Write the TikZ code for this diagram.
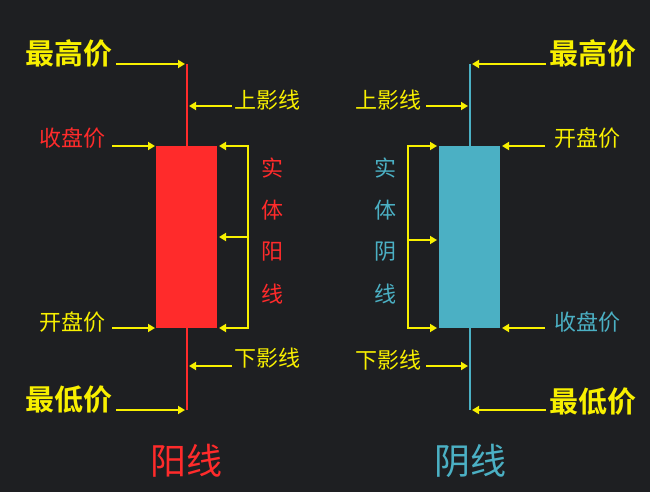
\documentclass[tikz,border=0pt]{standalone}
\usepackage{fontspec}
\newfontfamily\cjk{Noto Sans CJK SC}[BoldFont={Noto Sans CJK SC Bold}]
\usetikzlibrary{arrows.meta}
\definecolor{bg}{HTML}{1E1F22}
\definecolor{yl}{HTML}{F8F000}
\definecolor{rd}{HTML}{FF2B2B}
\definecolor{cy}{HTML}{4BB0C4}
\begin{document}
\begin{tikzpicture}[x=1pt,y=-1pt,
  arr/.style={yl,line width=2.2pt,-{Triangle[length=7pt,width=8pt]}},
  big/.style={font=\cjk\bfseries\fontsize{29}{29}\selectfont,inner sep=0},
  mid/.style={font=\cjk\fontsize{22}{22}\selectfont,inner sep=0},
  ttl/.style={font=\cjk\fontsize{36}{36}\selectfont,inner sep=0}]
\fill[bg] (0,0) rectangle (650,492);
\useasboundingbox (0,0) rectangle (650,492);
% red candle
\draw[rd,line width=1.8pt] (187,64) -- (187,410);
\fill[rd] (156,146) rectangle (217,328);
\node[big,yl,anchor=west] (lh) at (25,53) {最高价};
\node[mid,rd,anchor=west] (lc) at (39,138) {收盘价};
\node[mid,yl,anchor=west] (lo) at (39,322) {开盘价};
\node[big,yl,anchor=west] (ll) at (25,400) {最低价};
\coordinate (lh1) at (116,64); \coordinate (lh2) at (185,64);
\coordinate (lc1) at (112,146); \coordinate (lc2) at (155,146);
\coordinate (lo1) at (112,328); \coordinate (lo2) at (155,328);
\coordinate (ll1) at (116,410); \coordinate (ll2) at (185,410);
\draw[arr] (lh1) -- (lh2); \draw[arr] (lc1) -- (lc2);
\draw[arr] (lo1) -- (lo2); \draw[arr] (ll1) -- (ll2);
\node[mid,yl,anchor=west] (lu) at (234,100) {上影线};
\node[mid,yl,anchor=west] (ld) at (234,358) {下影线};
\coordinate (lu1) at (232,106); \coordinate (lu2) at (189,106);
\coordinate (ld1) at (232,366); \coordinate (ld2) at (189,366);
\draw[arr] (lu1) -- (lu2); \draw[arr] (ld1) -- (ld2);
\draw[yl,line width=2.2pt] (248,146) -- (248,328);
\foreach \y in {146,237,328} \draw[arr] (249,\y) -- (219,\y);
\foreach \t/\y in {实/168,体/210,阳/252,线/294}
  \node[mid,rd] at (272,\y) {\t};
\node[ttl,rd] (t1) at (186,461) {阳线};
% cyan candle
\draw[cy,line width=1.8pt] (470,64) -- (470,410);
\fill[cy] (439,146) rectangle (500,328);
\node[big,yl,anchor=east] (rh) at (637,53) {最高价};
\node[mid,yl,anchor=east] (ro) at (621,138) {开盘价};
\node[mid,cy,anchor=east] (rc) at (621,322) {收盘价};
\node[big,yl,anchor=east] (rl) at (637,402) {最低价};
\draw[arr] (546,64) -- (472,64);
\draw[arr] (545,146) -- (502,146);
\draw[arr] (545,328) -- (502,328);
\draw[arr] (546,410) -- (472,410);
\node[mid,yl,anchor=west] (ru) at (355,100) {上影线};
\node[mid,yl,anchor=west] (rd2) at (355,360) {下影线};
\draw[arr] (426,106) -- (468,106);
\draw[arr] (426,366) -- (468,366);
\draw[yl,line width=2.2pt] (408,146) -- (408,328);
\foreach \y in {146,240,328} \draw[arr] (407,\y) -- (437,\y);
\foreach \t/\y in {实/168,体/210,阴/252,线/294}
  \node[mid,cy] at (385,\y) {\t};
\node[ttl,cy] (t2) at (470,461) {阴线};
\end{tikzpicture}
\end{document}
